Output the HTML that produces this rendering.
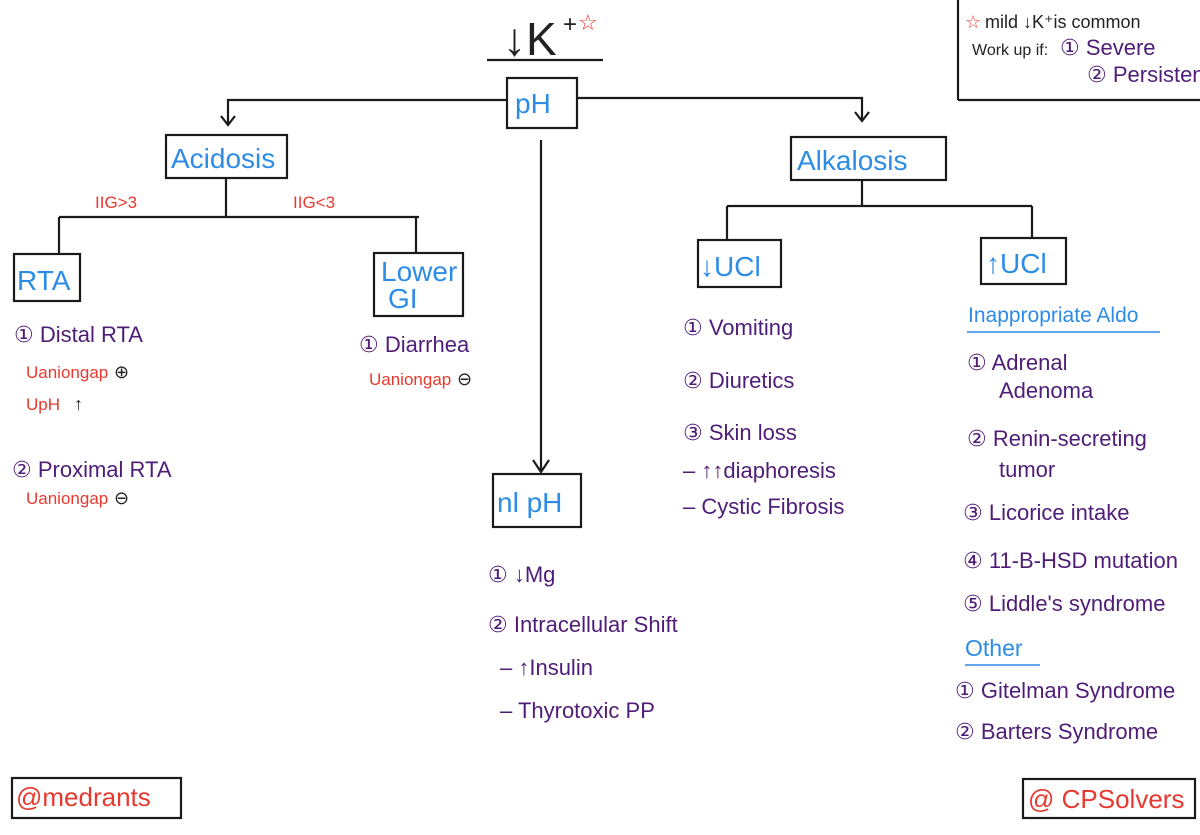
<!DOCTYPE html>
<html><head><meta charset="utf-8"><style>
html,body{margin:0;padding:0;background:#fff;}
svg{display:block;}
text{font-family:"Liberation Sans","DejaVu Sans",sans-serif;}
.p{fill:#4f1d78;font-size:22px;}
.r{fill:#e8392f;font-size:17px;}
.b{fill:#2d8ce6;font-size:28px;}
.k{fill:#222;}
</style></head><body>
<svg width="1200" height="835" viewBox="0 0 1200 835" xmlns="http://www.w3.org/2000/svg">
<g stroke="#1a1a1a" stroke-width="2.2" fill="none">
<line x1="487" y1="60" x2="603" y2="60"/>
<rect x="507" y="78" width="70" height="50"/>
<polyline points="507,100 228,100 228,124"/>
<polyline points="221,116 228,125 235,116"/>
<polyline points="577,98 862,98 862,120"/>
<polyline points="855,112 862,121 869,112"/>
<rect x="166" y="135" width="121" height="43"/>
<line x1="226" y1="178" x2="226" y2="217"/>
<line x1="59" y1="217" x2="419" y2="217"/>
<line x1="59" y1="217" x2="59" y2="254"/>
<line x1="416" y1="217" x2="416" y2="252"/>
<rect x="14" y="254" width="66" height="47"/>
<rect x="374" y="253" width="89" height="63"/>
<line x1="541" y1="140" x2="541" y2="471"/>
<polyline points="533,460 541,472 549,460"/>
<rect x="493" y="474" width="88" height="53"/>
<rect x="791" y="137" width="155" height="43"/>
<line x1="862" y1="180" x2="862" y2="206"/>
<line x1="727" y1="206" x2="1032" y2="206"/>
<line x1="727" y1="206" x2="727" y2="240"/>
<line x1="1032" y1="206" x2="1032" y2="238"/>
<rect x="698" y="240" width="83" height="47"/>
<rect x="981" y="238" width="85" height="46"/>
<line x1="958" y1="0" x2="958" y2="100"/>
<line x1="958" y1="100" x2="1200" y2="100"/>
<rect x="12" y="778" width="169" height="40"/>
<rect x="1023" y="779" width="172" height="39"/>
</g>
<g stroke="#2d8ce6" stroke-width="1.5"><line x1="967" y1="332" x2="1160" y2="332"/><line x1="965" y1="665" x2="1040" y2="665"/></g>
<text x="503" y="55" class="k" font-size="46">↓K</text>
<text x="563" y="32" class="k" font-size="24">+</text>
<text x="578" y="30" fill="#e8392f" font-size="22">☆</text>
<text x="515" y="113" class="b">pH</text>
<text x="171" y="168" class="b">Acidosis</text>
<text x="797" y="170" class="b">Alkalosis</text>
<text x="17" y="290" class="b">RTA</text>
<text x="381" y="281" class="b" font-size="25">Lower</text>
<text x="388" y="308" class="b" font-size="25">GI</text>
<text x="497" y="512" class="b">nl pH</text>
<text x="700" y="276" class="b">↓UCl</text>
<text x="986" y="273" class="b">↑UCl</text>
<text x="95" y="208" class="r">IIG&gt;3</text>
<text x="293" y="208" class="r">IIG&lt;3</text>
<text x="14" y="342" class="p">① Distal RTA</text>
<text x="26" y="378" class="r">Uaniongap</text><text x="114" y="378" class="k" font-size="18">⊕</text>
<text x="26" y="410" class="r">UpH</text><text x="74" y="410" class="k" font-size="18">↑</text>
<text x="12" y="477" class="p">② Proximal RTA</text>
<text x="26" y="504" class="r">Uaniongap</text><text x="114" y="504" class="k" font-size="18">⊖</text>
<text x="359" y="352" class="p">① Diarrhea</text>
<text x="369" y="385" class="r">Uaniongap</text><text x="457" y="385" class="k" font-size="18">⊖</text>
<text x="683" y="335" class="p" font-size="25">① Vomiting</text>
<text x="683" y="388" class="p" font-size="25">② Diuretics</text>
<text x="683" y="440" class="p" font-size="25">③ Skin loss</text>
<text x="683" y="478" class="p">– ↑↑diaphoresis</text>
<text x="683" y="514" class="p">– Cystic Fibrosis</text>
<text x="488" y="582" class="p" font-size="30">① ↓Mg</text>
<text x="488" y="632" class="p" font-size="27">② Intracellular Shift</text>
<text x="500" y="675" class="p" font-size="25">– ↑Insulin</text>
<text x="500" y="718" class="p" font-size="25">– Thyrotoxic PP</text>
<text x="968" y="322" fill="#2d8ce6" font-size="21">Inappropriate Aldo</text>
<text x="967" y="370" class="p">① Adrenal</text>
<text x="999" y="398" class="p">Adenoma</text>
<text x="967" y="446" class="p">② Renin-secreting</text>
<text x="999" y="477" class="p">tumor</text>
<text x="963" y="520" class="p">③ Licorice intake</text>
<text x="963" y="568" class="p" font-size="20">④ 11-B-HSD mutation</text>
<text x="963" y="611" class="p">⑤ Liddle's syndrome</text>
<text x="965" y="656" fill="#2d8ce6" font-size="23">Other</text>
<text x="955" y="698" class="p" font-size="20">① Gitelman Syndrome</text>
<text x="955" y="739" class="p" font-size="20">② Barters Syndrome</text>
<text x="965" y="28" fill="#e8392f" font-size="18">☆</text>
<text x="985" y="28" class="k" font-size="18">mild ↓K⁺is common</text>
<text x="972" y="55" class="k" font-size="16">Work up if:</text>
<text x="1060" y="55" class="p" font-size="17">① Severe</text>
<text x="1087" y="82" class="p" font-size="16">② Persistent</text>
<text x="16" y="806" fill="#e8392f" font-size="26">@medrants</text>
<text x="1028" y="808" fill="#e8392f" font-size="26">@ CPSolvers</text>
</svg>
</body></html>
